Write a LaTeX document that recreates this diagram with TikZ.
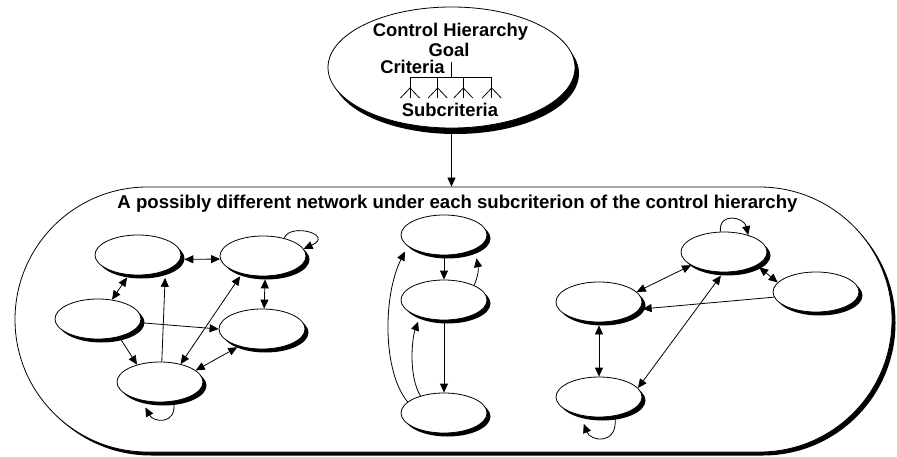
\documentclass[tikz,border=0pt]{standalone}
\usepackage{fontspec}
\setmainfont{Liberation Sans}
\usetikzlibrary{shapes.geometric,shapes.misc,shadows,arrows.meta}

\begin{document}
\begin{tikzpicture}[x=1pt,y=-1pt,line width=0.8pt,
  blackshadow/.style={drop shadow={shadow xshift=#1,shadow yshift=-#1,opacity=1,fill=black}},
  elem/.style={ellipse,draw,fill=white,minimum width=86pt,minimum height=40pt,inner sep=0pt,blackshadow=3.5pt},
  bigbox/.style={rounded rectangle,draw,fill=white,minimum width=877pt,minimum height=265pt,inner sep=0pt,blackshadow=3.5pt},
  topbox/.style={ellipse,draw,fill=white,minimum width=247pt,minimum height=121pt,inner sep=0pt,
    drop shadow={shadow xshift=4pt,shadow yshift=-6pt,opacity=1,fill=black}},
  lbl/.style={font=\bfseries\fontsize{18.4}{21}\selectfont,inner sep=0pt,anchor=base},
  arr/.style={-{Triangle[length=9pt,width=8pt]}},
  darr/.style={{Triangle[length=9pt,width=8pt]}-{Triangle[length=9pt,width=8pt]}}]

\useasboundingbox (0,0) rectangle (897,457);

% control hierarchy
\node[topbox] (ctrl) at (451.5,67.5) {};
\node[lbl] (ttl) at (450.5,36.5) {Control Hierarchy};
\node[lbl] (goal) at (449,57) {Goal};
\node[lbl] (crit) at (412.5,74) {Criteria};
\node[lbl] (sub) at (450,117) {Subcriteria};
\draw (451.7,62) -- (451.7,77);
\draw (410,77) -- (491.7,77);
\foreach \x in {410,437.7,463.3,491.7}{
  \draw (\x,77) -- (\x,98);
  \draw (\x-9.5,98) -- (\x,88) -- (\x+9.5,98);
}

% network container
\node[bigbox] (net) at (453.5,319.5) {};
\node[lbl,font=\bfseries\fontsize{18.6}{21}\selectfont] (head) at (457.5,209)
  {A possibly different network under each subcriterion of the control hierarchy};
\draw[arr] (ctrl.south) -- (ctrl.south |- net.north);

% first network
\node[elem] (N1) at (138,255) {};
\node[elem] (N2) at (263,256) {};
\node[elem] (N3) at (98,319) {};
\node[elem] (N4) at (262,329) {};
\node[elem] (N5) at (160,382) {};
\draw[darr,shorten <=4pt] (N1.-6) -- (N2.184);
\draw[arr] (N2.40) .. controls +(6,-16) and +(31,-14) .. (N2.10);
\draw[darr,shorten <=3pt] (N1.245) -- (N3.54);
\draw[darr,shorten <=3pt] (N2.-84) -- (N4.84);
\draw[arr] (N3.-5) -- (N4.west);
\draw[arr,shorten >=7pt] (N5.85) -- (N1.-30);
\draw[darr,shorten >=3pt] (N5.41) -- (N2.220);
\draw[arr,shorten <=3pt] (N3.-40) -- (N5.143);
\draw[darr,shorten >=2pt] (N5.18) -- (N4.217);
\draw[arr,shorten >=8pt] (N5.-55) .. controls +(4,24) and +(12,22) .. (N5.-135);

% second network
\node[elem] (M1) at (444,235) {};
\node[elem] (M2) at (444,300) {};
\node[elem] (M3) at (444,413) {};
\draw[arr,shorten <=3pt] (M1.south) -- (M2.north);
\draw[arr,shorten >=9pt] (M2.26) .. controls +(6,-14) and +(3,16) .. (M1.-25);
\draw[arr,shorten <=3pt] (M2.south) -- (M3.north);
\draw[arr,shorten >=5pt] (M3.144) .. controls +(-12,-20) and +(-8,22) .. (M2.-145);
\draw[arr,shorten >=6pt] (M3.163) .. controls +(-25,-30) and +(-25,50) .. (M1.-163);

% third network
\node[elem] (R1) at (724,252) {};
\node[elem] (R2) at (816,292) {};
\node[elem] (R3) at (599,302) {};
\node[elem] (R4) at (599,397) {};
\draw[arr] (R1.100) .. controls +(-2,-20) and +(-4,-18) .. (R1.35);
\draw[darr] (R1.202) -- (R3.15);
\draw[darr,shorten <=3pt] (R1.-22) -- (R2.166);
\draw[arr,shorten >=3pt] (R2.187) -- (R3.-10);
\draw[darr,shorten <=3pt] (R3.south) -- (R4.north);
\draw[darr,shorten <=4pt] (R1.-92) -- (R4.13);
\draw[arr,shorten >=9pt] (R4.-50) .. controls +(4,30) and +(10,26) .. (R4.-135);
\end{tikzpicture}
\end{document}
